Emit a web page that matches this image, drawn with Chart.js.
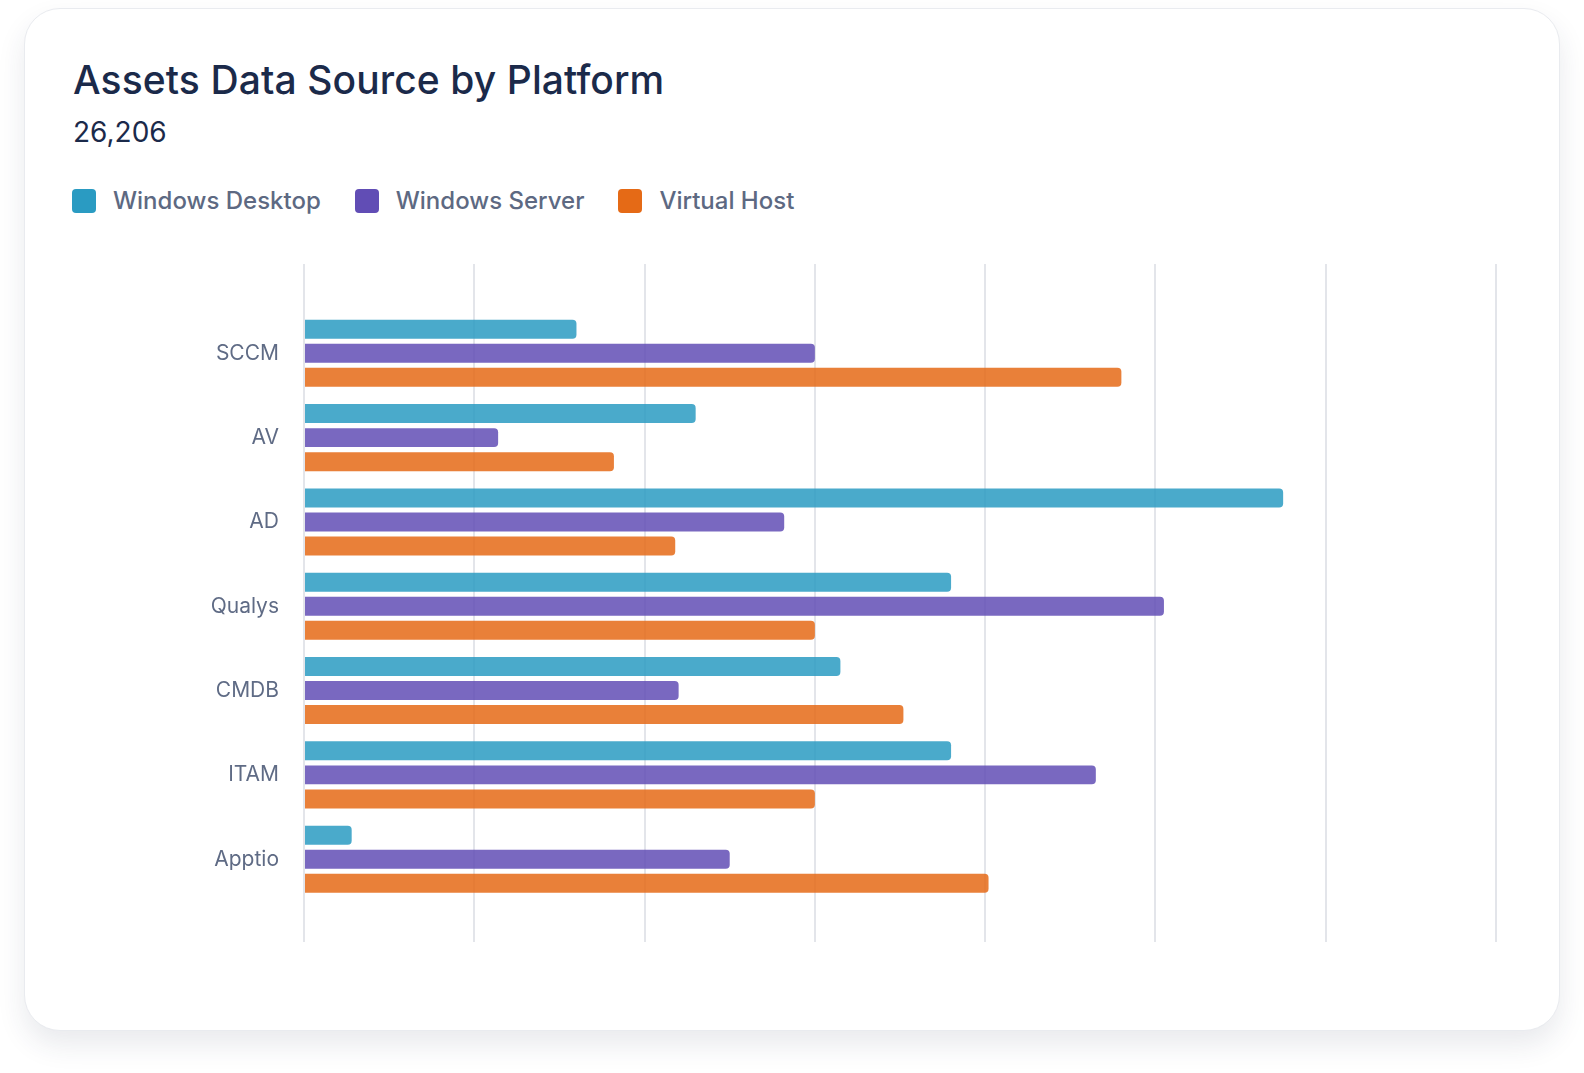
<!DOCTYPE html>
<html>
<head>
<meta charset="utf-8">
<script src="https://cdn.jsdelivr.net/npm/chart.js@4"></script>
<style>
  body { margin: 0; background: #ffffff; font-family: Inter, "Noto Sans", sans-serif; }
  .card {
    position: absolute; left: 24px; top: 8px; width: 1536px; height: 1023px;
    background: #fff; border-radius: 36px; border: 1px solid #e9ebef; box-sizing: border-box;
    box-shadow: 0 14px 28px rgba(40, 50, 80, 0.10);
  }
  h1 { position: absolute; left: 48px; top: 47px; margin: 0; font-size: 39px; font-weight: 500; color: #1b2a4a; letter-spacing: 0.1px; }
  .total { position: absolute; left: 48px; top: 106px; font-size: 28px; color: #1b2a4a; }
  .legend { position: absolute; left: 47px; top: 177px; display: flex; font-size: 24px; font-weight: 500; color: #5d6982; }
  .legend span { display: flex; align-items: center; margin-right: 34px; }
  .legend i { width: 24px; height: 24px; border-radius: 4px; margin-right: 17px; display: inline-block; }
  #wrap { position: absolute; left: 24px; top: 264px; width: 1500px; height: 678px; }
</style>
</head>
<body>
<div class="card">
  <h1>Assets Data Source by Platform</h1>
  <div class="total">26,206</div>
  <div class="legend" id="legend"></div>
</div>
<div id="wrap"><canvas id="grafico"></canvas></div>
<script>
// dados (unidades da grade)
var fontes = ['SCCM', 'AV', 'AD', 'Qualys', 'CMDB', 'ITAM', 'Apptio']
var desktop = [160, 230, 575, 380, 315, 380, 28]
var server = [300, 114, 282, 505, 220, 465, 250]
var virtualHost = [480, 182, 218, 300, 352, 300, 402]
var nomes = ['Windows Desktop', 'Windows Server', 'Virtual Host']
var cores = ['#2a9bc2', '#614db5', '#e56a16']
var coresBarra = ['rgba(42,155,194,0.85)', 'rgba(97,77,181,0.85)', 'rgba(229,106,22,0.85)']
var ticksX = [0, 100, 200, 300, 400, 500, 600, 700]

var legend = document.getElementById('legend')
nomes.forEach(function(n, i) {
  legend.innerHTML += '<span><i style="background:' + cores[i] + '"></i>' + n + '</span>'
})

// uma categoria vazia em cima e embaixo, pra sobrar espaço na grade
var rotulos = [''].concat(fontes, [''])
function pad(arr) { return [null].concat(arr, [null]) }

// empurra o eixo y um pouco pra baixo, a grade continua no lugar
var ajuste = {
  id: 'ajuste',
  afterLayout: function(chart) {
    var y = chart.scales.y
    y.top += 5
    y.bottom += 1.5
    y.configure()
  }
}

var ctx = document.getElementById('grafico').getContext('2d')
var barchart = new Chart(ctx, {
  type: 'bar',
  plugins: [ajuste],
  data: {
    labels: rotulos,
    datasets: [desktop, server, virtualHost].map(function(d, i) {
      return {
        label: nomes[i],
        data: pad(d),
        backgroundColor: coresBarra[i],
        borderRadius: 4,
        borderSkipped: 'start',
        categoryPercentage: 0.855,
        barPercentage: 0.79
      }
    })
  },
  options: {
    indexAxis: 'y',
    responsive: true,
    maintainAspectRatio: false,
    animation: false,
    layout: { autoPadding: false, padding: { left: 0, right: 28, top: 0, bottom: 0 } },
    plugins: { legend: { display: false }, tooltip: { enabled: false } },
    scales: {
      x: {
        min: ticksX[0],
        max: ticksX[ticksX.length - 1],
        ticks: { stepSize: 100, display: false },
        grid: { color: '#e3e5ea', lineWidth: 2, drawTicks: false },
        border: { display: false },
        afterFit: function(s) { s.height = 0 }
      },
      y: {
        offset: false,
        grid: { display: false, drawTicks: false },
        border: { display: false },
        ticks: { padding: 25, color: '#5f6b85', font: { family: 'Inter', size: 21 }, autoSkip: false },
        afterFit: function(s) {
          s.width = 280
          s.paddingTop = 0
          s.paddingBottom = 0
        }
      }
    }
  }
})
</script>
</body>
</html>
